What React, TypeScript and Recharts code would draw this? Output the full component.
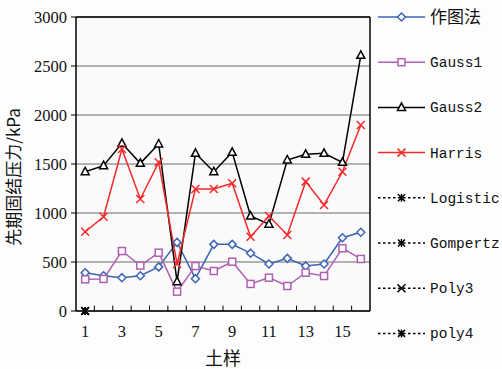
import React from 'react';
import { LineChart, Line, XAxis, YAxis, CartesianGrid, Label, ReferenceLine } from 'recharts';

const samples = [1, 2, 3, 4, 5, 6, 7, 8, 9, 10, 11, 12, 13, 14, 15, 16];
const graphic = [390, 360, 340, 360, 450, 700, 330, 680, 680, 590, 480, 537, 460, 480, 748, 803];
const gauss1 = [323, 327, 612, 463, 595, 197, 459, 408, 503, 276, 340, 255, 391, 357, 640, 531];
const gauss2 = [1421, 1483, 1711, 1507, 1704, 299, 1609, 1421, 1619, 969, 885, 1541, 1599, 1609, 1517, 2609];
const harris = [809, 962, 1653, 1143, 1517, 480, 1245, 1245, 1303, 758, 969, 776, 1320, 1082, 1421, 1898];
const logistic = [0, null, null, null, null, null, null, null, null, null, null, null, null, null, null, null];
const gompertz = [0, null, null, null, null, null, null, null, null, null, null, null, null, null, null, null];
const poly3 = [0, null, null, null, null, null, null, null, null, null, null, null, null, null, null, null];
const poly4 = [0, null, null, null, null, null, null, null, null, null, null, null, null, null, null, null];
const xTicks = [1, 3, 5, 7, 9, 11, 13, 15];
const xBounds = [1.5, 2.5, 3.5, 4.5, 5.5, 6.5, 7.5, 8.5, 9.5, 10.5, 11.5, 12.5, 13.5, 14.5, 15.5];
const yTicks = [0, 500, 1000, 1500, 2000, 2500, 3000];

const data = samples.map((x, i) => ({
    x,
    graphic: graphic[i],
    gauss1: gauss1[i],
    gauss2: gauss2[i],
    harris: harris[i],
    logistic: logistic[i],
    gompertz: gompertz[i],
    poly3: poly3[i],
    poly4: poly4[i],
}));

const BLUE = '#3d64b4';
const PURPLE = '#b060b4';
const RED = '#f22a2a';
const BLACK = '#000';
const serif = '"Liberation Serif", "DejaVu Serif", serif';
const cjk = '"Noto Sans CJK SC", sans-serif';

type Shape = 'diamond' | 'square' | 'triangle' | 'cross' | 'star';

function marker(shape: Shape, color: string, cx: number, cy: number, key?: any) {
    switch (shape) {
        case 'diamond':
            return <path key={key} d={`M${cx},${cy - 4}L${cx + 4},${cy}L${cx},${cy + 4}L${cx - 4},${cy}Z`} fill="#fff" stroke={color} strokeWidth={1.5} />;
        case 'square':
            return <rect key={key} x={cx - 3.5} y={cy - 3.5} width={7} height={7} fill="#fff" stroke={color} strokeWidth={1.5} />;
        case 'triangle':
            return <path key={key} d={`M${cx},${cy - 4.5}L${cx + 4},${cy + 3}L${cx - 4},${cy + 3}Z`} fill="#fff" stroke={color} strokeWidth={1.5} />;
        case 'cross':
            return <path key={key} d={`M${cx - 4},${cy - 4}L${cx + 4},${cy + 4}M${cx + 4},${cy - 4}L${cx - 4},${cy + 4}`} stroke={color} strokeWidth={1.5} />;
        case 'star':
            return <path key={key} d={`M${cx - 3.5},${cy - 3.5}L${cx + 3.5},${cy + 3.5}M${cx + 3.5},${cy - 3.5}L${cx - 3.5},${cy + 3.5}M${cx},${cy - 4}L${cx},${cy + 4}`} stroke={color} strokeWidth={1.5} />;
    }
}

const dot = (shape: Shape, color: string) => (props: any) => {
    const { cx, cy, index, value } = props;
    if (cx == null || cy == null || value == null) return <g key={index} />;
    return <g key={index}>{marker(shape, color, cx, cy)}</g>;
};

const legendItems: { name: string; color: string; shape: Shape; dashed: boolean }[] = [
    { name: '作图法', color: BLUE, shape: 'diamond', dashed: false },
    { name: 'Gauss1', color: PURPLE, shape: 'square', dashed: false },
    { name: 'Gauss2', color: BLACK, shape: 'triangle', dashed: false },
    { name: 'Harris', color: RED, shape: 'cross', dashed: false },
    { name: 'Logistic', color: BLACK, shape: 'star', dashed: true },
    { name: 'Gompertz', color: BLACK, shape: 'star', dashed: true },
    { name: 'Poly3', color: BLACK, shape: 'cross', dashed: true },
    { name: 'poly4', color: BLACK, shape: 'star', dashed: true },
];

function ChartLegend() {
    return (
        <svg width={132} height={369} style={{ position: 'absolute', left: 370, top: 0 }}>
            {legendItems.map((it, i) => {
                const y = 17 + i * 45.2;
                return (
                    <g key={it.name}>
                        <line x1={8} x2={55} y1={y} y2={y} stroke={it.color} strokeWidth={1.5}
                            strokeDasharray={it.dashed ? '2.5 2.5' : undefined} />
                        {marker(it.shape, it.color, 31.5, y)}
                        <text x={60} y={y} dy="0.35em" fontSize={i === 0 ? 17 : 14.5}
                            fontFamily={i === 0 ? cjk : '"Liberation Mono", monospace'} fill="#111">
                            {it.name}
                        </text>
                    </g>
                );
            })}
        </svg>
    );
}

const yTitle = () => (
    <text x={12} y={177} transform="rotate(-90 12 177)" textAnchor="middle" dominantBaseline="central"
        fontSize={17} fontFamily={cjk} fill="#111">
        先期固结压力/kPa
    </text>
);

export default function App() {
    return (
        <div style={{ position: 'relative', width: 502, height: 369, background: '#fdfdfd' }}>
            <style>{'body{margin:0}'}</style>
            <LineChart width={502} height={369} data={data}
                margin={{ top: 17, right: 132, left: 0, bottom: 0 }}>
                <CartesianGrid horizontal vertical={false}
                    stroke="#6a6a6a" strokeWidth={1.2} fill="#fafafa" />
                <XAxis dataKey="x" type="number" domain={[0.5, 16.5]} ticks={xTicks}
                    interval={0} height={58} tickLine={false} axisLine={{ stroke: '#000', strokeWidth: 1.5 }}
                    tick={{ fill: '#111', fontSize: 16.5, fontFamily: serif }} tickMargin={8}>
                    <Label value="土样" position="insideBottom" offset={4} fill="#111" fontSize={18} fontFamily={cjk} />
                </XAxis>
                <YAxis domain={[0, 3000]} ticks={yTicks} interval={0} width={76}
                    tickSize={5} tickMargin={4} axisLine={{ stroke: '#000', strokeWidth: 1.5 }}
                    tickLine={{ stroke: '#000' }} tick={{ fill: '#111', fontSize: 16.5, fontFamily: serif }}>
                    <Label content={yTitle} />
                </YAxis>
                {/* frame: top and right edges */}
                <ReferenceLine y={3000} stroke="#000" strokeWidth={1.5} />
                <ReferenceLine x={16.5} stroke="#000" strokeWidth={1.5} />
                {/* short inner ticks between samples on the bottom axis */}
                {xBounds.map((b) => (
                    <ReferenceLine key={b} segment={[{ x: b, y: 0 }, { x: b, y: 55 }]} stroke="#000" strokeWidth={1} />
                ))}
                <Line dataKey="graphic" stroke={BLUE} strokeWidth={1.5}
                    dot={dot('diamond', BLUE)} isAnimationActive={false} />
                <Line dataKey="gauss1" stroke={PURPLE} strokeWidth={1.5}
                    dot={dot('square', PURPLE)} isAnimationActive={false} />
                <Line dataKey="gauss2" stroke={BLACK} strokeWidth={1.5}
                    dot={dot('triangle', BLACK)} isAnimationActive={false} />
                <Line dataKey="harris" stroke={RED} strokeWidth={1.5}
                    dot={dot('cross', RED)} isAnimationActive={false} />
                <Line dataKey="logistic" stroke={BLACK} strokeDasharray="2 2"
                    dot={dot('star', BLACK)} isAnimationActive={false} />
                <Line dataKey="gompertz" stroke={BLACK} strokeDasharray="2 2"
                    dot={dot('star', BLACK)} isAnimationActive={false} />
                <Line dataKey="poly3" stroke={BLACK} strokeDasharray="2 2"
                    dot={dot('cross', BLACK)} isAnimationActive={false} />
                <Line dataKey="poly4" stroke={BLACK} strokeDasharray="2 2"
                    dot={dot('star', BLACK)} isAnimationActive={false} />
            </LineChart>
            <ChartLegend />
        </div>
    );
}
